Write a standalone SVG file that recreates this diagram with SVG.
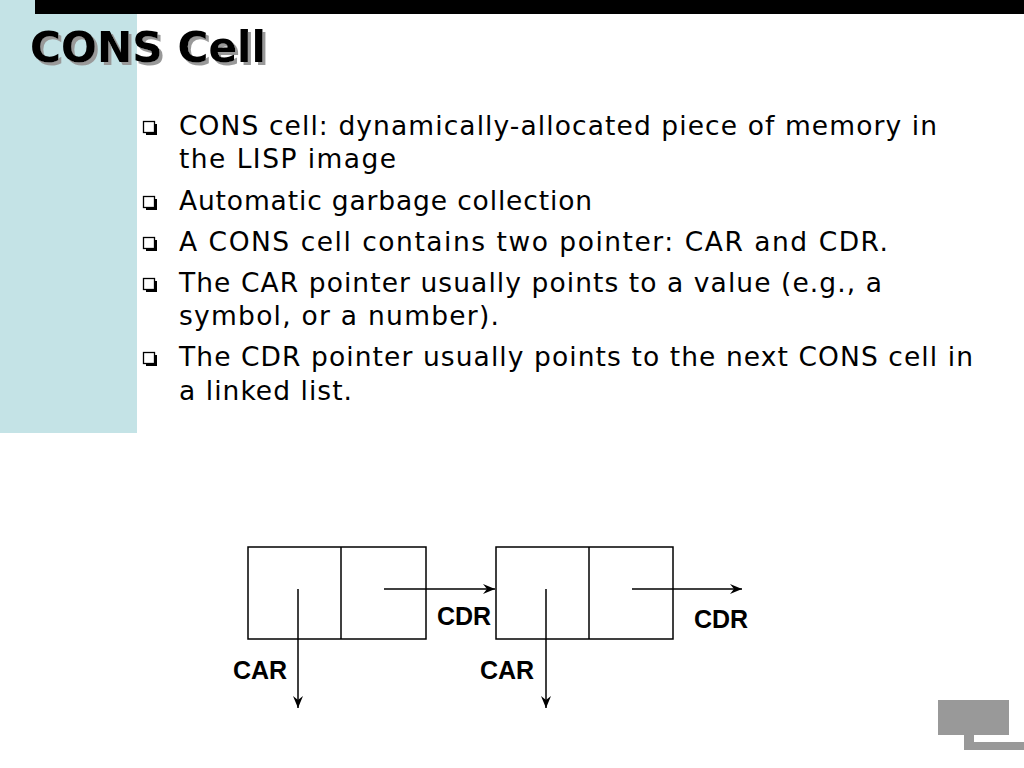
<svg xmlns="http://www.w3.org/2000/svg" width="1024" height="768" viewBox="0 0 1024 768">
<defs>
<style>
.body{font-family:"DejaVu Sans","Verdana",sans-serif;font-size:26.5px;fill:#000}
.lbl{font-family:"Liberation Sans",Arial,sans-serif;font-size:25px;font-weight:bold;fill:#000}
.title{font-family:"DejaVu Sans","Verdana",sans-serif;font-size:42px;font-weight:bold;fill:#000}
.box{fill:#fff;stroke:#000;stroke-width:1.5}
.ptr{stroke:#000;stroke-width:1.5;fill:none;marker-end:url(#ah)}
.bul{fill:#fff;stroke:#000;stroke-width:1.3}
</style>
<filter id="shadow" x="-10%" y="-20%" width="130%" height="150%">
<feOffset in="SourceAlpha" dx="3" dy="3" result="off"/>
<feFlood flood-color="#999"/>
<feComposite in2="off" operator="in" result="sh"/>
<feMerge><feMergeNode in="sh"/><feMergeNode in="SourceGraphic"/></feMerge>
</filter>
<marker id="ah" viewBox="0 0 12 10" refX="12" refY="5" markerWidth="12" markerHeight="10" markerUnits="userSpaceOnUse" orient="auto">
<path d="M0,0 L12,5 L0,10 L4,5 Z" fill="#000"/>
</marker>
<g id="bullet">
<path d="M3,3 H14 V14 H3 Z" fill="#000"/>
<rect x="0.5" y="0.5" width="11" height="11" class="bul"/>
</g>
</defs>
<rect width="1024" height="768" fill="#fff"/>
<rect x="0" y="0" width="137" height="433" fill="#c4e3e6"/>
<rect x="35" y="0" width="989" height="14" fill="#000"/>
<g id="title">
<text x="30" y="62" class="title" filter="url(#shadow)" textLength="236" lengthAdjust="spacingAndGlyphs">CONS Cell</text>
</g>
<g id="bullets">
<use href="#bullet" x="143" y="121"/>
<text x="179" y="135" class="body" textLength="758">CONS cell: dynamically-allocated piece of memory in</text>
<text x="179" y="168" class="body" textLength="217">the LISP image</text>
<use href="#bullet" x="143" y="196"/>
<text x="179" y="210" class="body" textLength="413">Automatic garbage collection</text>
<use href="#bullet" x="143" y="237"/>
<text x="179" y="251" class="body" textLength="709">A CONS cell contains two pointer: CAR and CDR.</text>
<use href="#bullet" x="143" y="278"/>
<text x="179" y="292" class="body" textLength="703">The CAR pointer usually points to a value (e.g., a</text>
<text x="179" y="325" class="body" textLength="320">symbol, or a number).</text>
<use href="#bullet" x="143" y="352"/>
<text x="179" y="366" class="body" textLength="794">The CDR pointer usually points to the next CONS cell in</text>
<text x="179" y="400" class="body" textLength="173">a linked list.</text>
</g>
<g id="cell1">
<rect x="248" y="547" width="178" height="92" class="box"/>
<line x1="341" y1="547" x2="341" y2="639" stroke="#000" stroke-width="1.5"/>
</g>
<g id="cell2">
<rect x="496" y="547" width="177" height="92" class="box"/>
<line x1="589" y1="547" x2="589" y2="639" stroke="#000" stroke-width="1.5"/>
</g>
<g id="connectors">
<line x1="298" y1="589" x2="298" y2="708" class="ptr"/>
<line x1="384" y1="589" x2="495" y2="589" class="ptr"/>
<line x1="546" y1="589" x2="546" y2="708" class="ptr"/>
<line x1="632" y1="589" x2="742" y2="589" class="ptr"/>
</g>
<g id="labels">
<text x="233" y="679" class="lbl">CAR</text>
<text x="437" y="625" class="lbl">CDR</text>
<text x="480" y="679" class="lbl">CAR</text>
<text x="694" y="628" class="lbl">CDR</text>
</g>
<g id="logo" fill="#999">
<rect x="938" y="700" width="71" height="35"/>
<rect x="964" y="735" width="10" height="15"/>
<rect x="964" y="742" width="60" height="8"/>
</g>
</svg>
